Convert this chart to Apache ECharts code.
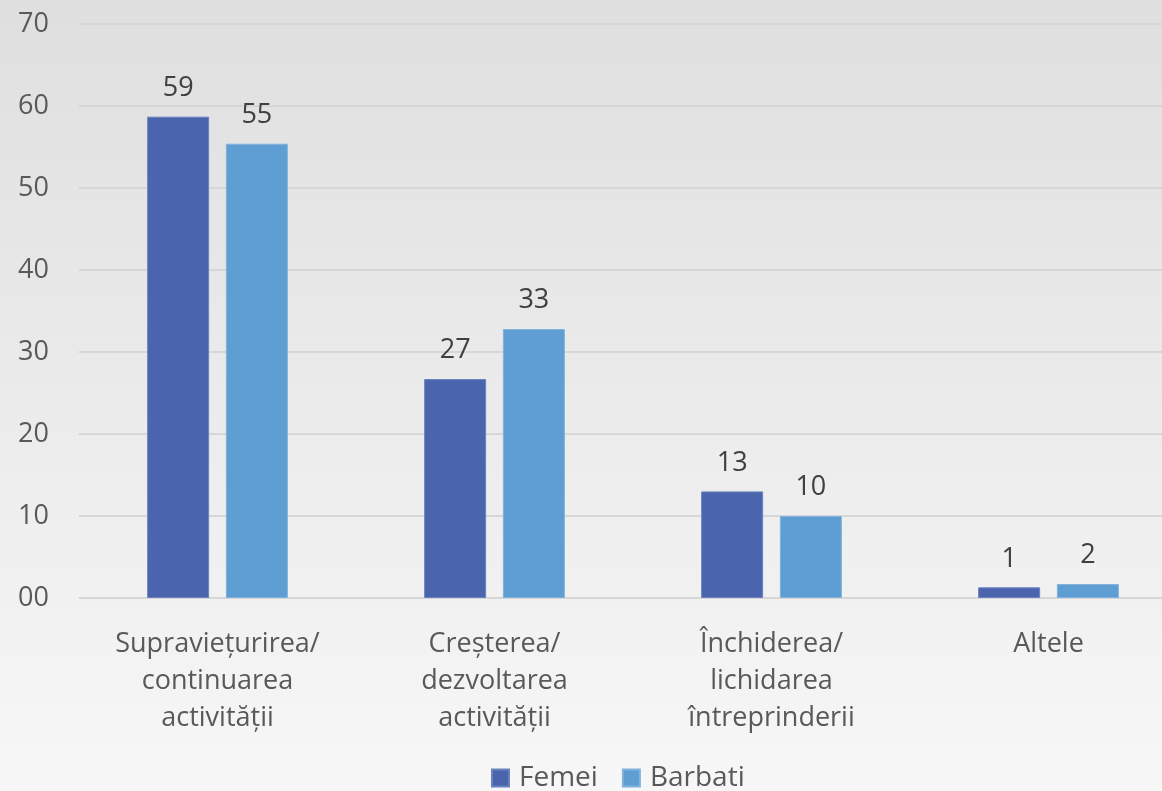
<!DOCTYPE html>
<html><head><meta charset="utf-8">
<script src="https://cdn.jsdelivr.net/npm/echarts@6/dist/echarts.min.js"></script>
<style>html,body{margin:0;padding:0;}#c{width:1162px;height:791px;}</style>
</head><body><div id="c"></div>
<script>
const categories = ['Supraviețurirea/\ncontinuarea\nactivității', 'Creșterea/\ndezvoltarea\nactivității', 'Închiderea/\nlichidarea\nîntreprinderii', 'Altele'];
const femei = [58.7, 26.7, 13.0, 1.3];
const barbati = [55.4, 32.8, 10.0, 1.7];
const yTickLabels = ['00', '10', '20', '30', '40', '50', '60', '70'];
const seriesNames = ['Femei', 'Barbati'];

const font = 'Open Sans';
const chart = echarts.init(document.getElementById('c'));
chart.setOption({
  backgroundColor: {type: 'linear', x: 0, y: 0, x2: 0, y2: 1, colorStops: [{offset: 0, color: '#dfdfdf'}, {offset: 1, color: '#f7f7f7'}]},
  textStyle: {fontFamily: font},
  legend: {
    bottom: -6, left: 486, itemWidth: 17, itemHeight: 17, itemGap: 24, icon: 'rect',
    textStyle: {fontSize: 28, color: '#595959', fontFamily: font, padding: [0, 0, 0, 5]},
    data: seriesNames
  },
  grid: {left: 79, top: 24, right: -25, bottom: 193, containLabel: false, outerBoundsMode: 'none'},
  xAxis: {
    type: 'category', data: categories,
    axisLine: {show: false}, axisTick: {show: false},
    axisLabel: {fontSize: 27, color: '#595959', lineHeight: 37, margin: 28, interval: 0, fontFamily: font}
  },
  yAxis: {
    type: 'value', min: 0, max: 70, interval: 10,
    axisLine: {show: false}, axisTick: {show: false},
    splitLine: {lineStyle: {color: '#d6d6d6', width: 2}},
    axisLabel: {fontSize: 27, color: '#595959', margin: 30, fontFamily: font,
      formatter: v => yTickLabels[Math.round(v / 10)]}
  },
  series: [
    {name: seriesNames[0], type: 'bar', data: femei, barWidth: 62, barGap: '27%',
     itemStyle: {color: '#4A65AD', borderColor: '#6a82c0', borderWidth: 1},
     label: {show: true, position: 'top', distance: 15, fontSize: 27, color: '#404040', fontFamily: font, formatter: p => Math.round(p.value)}},
    {name: seriesNames[1], type: 'bar', data: barbati, barWidth: 62,
     itemStyle: {color: '#5F9ED3', borderColor: '#7fb2de', borderWidth: 1},
     label: {show: true, position: 'top', distance: 15, fontSize: 27, color: '#404040', fontFamily: font, formatter: p => Math.round(p.value)}}
  ]
});
</script></body></html>
